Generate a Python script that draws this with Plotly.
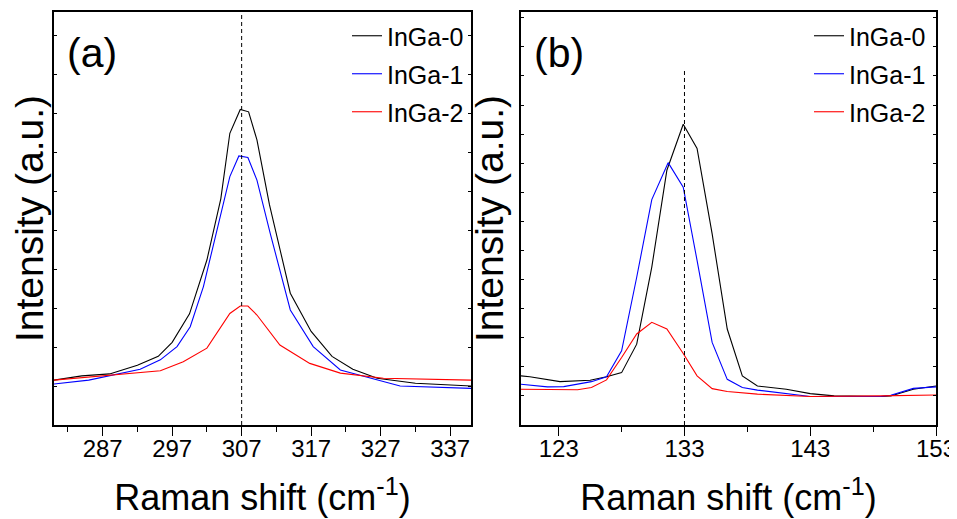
import plotly.graph_objects as go

# ---------------- data (panel a) ----------------
a_x0 = [280, 284, 288, 292, 295, 297, 299.5, 302, 304, 305.3, 306.8, 308, 309.2, 311, 314, 317, 320, 323, 326.5, 332, 340]
a_y0 = [1.15, 1.26, 1.31, 1.53, 1.76, 2.12, 2.85, 4.23, 5.8, 7.48, 8.09, 8.03, 7.31, 5.65, 3.38, 2.4, 1.76, 1.43, 1.2, 1.07, 1.0]
a_x1 = [280, 285, 292.4, 295.3, 297.7, 299.6, 301.5, 303.4, 305.3, 306.6, 307.9, 309.2, 311.1, 314, 317.3, 321.2, 326.9, 329.8, 340]
a_y1 = [1.05, 1.15, 1.43, 1.67, 2.01, 2.52, 3.55, 4.92, 6.37, 6.90, 6.86, 6.28, 4.92, 2.95, 2.01, 1.41, 1.15, 1.0, 0.94]
a_x2 = [280, 287.6, 295.3, 298.6, 302, 305.3, 306.8, 307.9, 309.2, 312.5, 316.8, 321.2, 327.4, 340]
a_y2 = [1.15, 1.26, 1.39, 1.62, 1.97, 2.86, 3.05, 3.05, 2.82, 2.05, 1.58, 1.33, 1.20, 1.15]

# ---------------- data (panel b) ----------------
b_x0 = [120, 120.7, 123.1, 125.5, 126.8, 128.0, 129.2, 130.4, 131.6, 132.9, 134.0, 135.2, 136.4, 137.6, 138.8, 141.1, 143.0, 144.9, 148.6, 149.4, 151.2, 153]
b_y0 = [1.69, 1.66, 1.49, 1.54, 1.66, 1.80, 2.78, 5.43, 8.76, 10.34, 9.51, 6.57, 3.30, 1.69, 1.34, 1.23, 1.08, 1.0, 0.98, 1.0, 1.23, 1.34]
b_x1 = [120, 122.1, 123.4, 125.6, 126.8, 128.0, 129.2, 130.4, 131.7, 132.9, 134.0, 135.2, 136.4, 137.6, 138.8, 143.0, 148.6, 149.4, 151.2, 153]
b_y1 = [1.40, 1.31, 1.32, 1.49, 1.66, 2.55, 5.08, 7.75, 9.02, 8.18, 5.66, 2.84, 1.57, 1.29, 1.20, 0.98, 0.98, 1.02, 1.26, 1.31]
b_x2 = [120, 124.5, 125.6, 126.8, 128.0, 129.2, 130.4, 131.6, 132.9, 134.0, 135.2, 136.4, 138.8, 143.0, 148.6, 153]
b_y2 = [1.23, 1.21, 1.29, 1.55, 2.32, 3.13, 3.53, 3.30, 2.46, 1.69, 1.25, 1.15, 1.06, 0.98, 1.0, 1.03]

series_names = ["InGa-0", "InGa-1", "InGa-2"]
series_colors = ["#000000", "#0000ff", "#ff0000"]

peak_a = 307
peak_b = 133
peak_b_top = 12.24

range_xa = [280, 340]
range_xb = [120, 153]
range_ya = [0, 10.59]
range_yb = [0, 14.2]

FONT = "Liberation Sans, Arial, sans-serif"

# the page body adds an 8 px offset, so the figure is sized to fit the window
W, H = 949, 511
dom_xa = [46 / W, 463 / W]
dom_xb = [513 / W, 928 / W]
dom_y = [1 - 417 / H, 1 - 4 / H]

fig = go.Figure()
for i, (xs, ys, nm, col) in enumerate(zip([a_x0, a_x1, a_x2], [a_y0, a_y1, a_y2], series_names, series_colors)):
    fig.add_trace(go.Scatter(x=xs, y=ys, mode="lines", name=nm, line=dict(color=col, width=1.1),
                             xaxis="x", yaxis="y", legend="legend", legendgroup="a%d" % i))
for i, (xs, ys, nm, col) in enumerate(zip([b_x0, b_x1, b_x2], [b_y0, b_y1, b_y2], series_names, series_colors)):
    fig.add_trace(go.Scatter(x=xs, y=ys, mode="lines", name=nm, line=dict(color=col, width=1.1),
                             xaxis="x2", yaxis="y2", legend="legend2", legendgroup="b%d" % i))

tickfont = dict(family=FONT, size=24, color="black")
titlefont = dict(family=FONT, size=36, color="black")

def xax(dom, rng, tick0, minor0, anchor):
    return dict(domain=dom, range=rng, anchor=anchor, automargin=False,
                showline=True, linecolor="black", linewidth=1.5,
                mirror=True, ticks="outside", ticklen=9, tickwidth=1.3, tickcolor="black",
                tickmode="linear", tick0=tick0, dtick=10, tickfont=tickfont, ticklabelstandoff=-8,
                ticklabeloverflow="allow",
                showgrid=False, zeroline=False,
                minor=dict(ticks="outside", ticklen=5, tickwidth=1.3, tickcolor="black", tickmode="linear",
                           tick0=minor0, dtick=5, showgrid=False),
                title=dict(text="Raman shift (cm<sup>-1</sup>)", font=titlefont, standoff=24))

def yax(dom, rng, anchor, standoff):
    return dict(domain=dom, range=rng, anchor=anchor, automargin=False,
                showline=True, linecolor="black", linewidth=1.5,
                mirror="ticks", ticks="inside", ticklen=3, tickwidth=1, tickcolor="black",
                tickmode="linear", tick0=0, dtick=1, showticklabels=False, showgrid=False, zeroline=False,
                title=dict(text="Intensity (a.u.)", font=dict(family=FONT, size=39, color="black"),
                           standoff=standoff))

def topax(over, rng, anchor):
    return dict(overlaying=over, side="top", anchor=anchor, range=rng, ticks="inside", ticklen=3,
                tickwidth=1, tickcolor="black", tickmode="linear", tick0=0, dtick=5, automargin=False,
                showticklabels=False, showgrid=False, zeroline=False, showline=False)

legfont = dict(family=FONT, size=25, color="black")

fig.update_layout(
    width=W, height=H, margin=dict(l=0, r=0, t=0, b=0, autoexpand=False),
    paper_bgcolor="white", plot_bgcolor="white",
    xaxis=xax(dom_xa, range_xa, 287, 282, "y"),
    yaxis=yax(dom_y, range_ya, "x", 10),
    xaxis2=xax(dom_xb, range_xb, 123, 128, "y2"),
    yaxis2=yax(dom_y, range_yb, "x2", 4),
    xaxis3=topax("x", range_xa, "y"),
    xaxis4=topax("x2", range_xb, "y2"),
    legend=dict(x=339 / W, y=1 - 5 / H, xanchor="left", yanchor="top", bgcolor="rgba(0,0,0,0)",
                font=legfont, tracegroupgap=2.5),
    legend2=dict(x=801 / W, y=1 - 5 / H, xanchor="left", yanchor="top", bgcolor="rgba(0,0,0,0)",
                 font=legfont, tracegroupgap=2.5),
    showlegend=True,
)

fig.add_shape(type="line", xref="x", yref="y domain", x0=peak_a, x1=peak_a, y0=0, y1=1,
              line=dict(color="black", width=1, dash="4px,3px"))
fig.add_shape(type="line", xref="x2", yref="y2", x0=peak_b, x1=peak_b, y0=range_yb[0], y1=peak_b_top,
              line=dict(color="black", width=1, dash="4px,3px"))

fig.add_annotation(text="(a)", xref="x domain", yref="y domain", x=0.027, y=0.90, xanchor="left",
                   yanchor="middle", showarrow=False, font=dict(family=FONT, size=41, color="black"))
fig.add_annotation(text="(b)", xref="x2 domain", yref="y2 domain", x=0.027, y=0.90, xanchor="left",
                   yanchor="middle", showarrow=False, font=dict(family=FONT, size=41, color="black"))

fig.write_html("out.html")
